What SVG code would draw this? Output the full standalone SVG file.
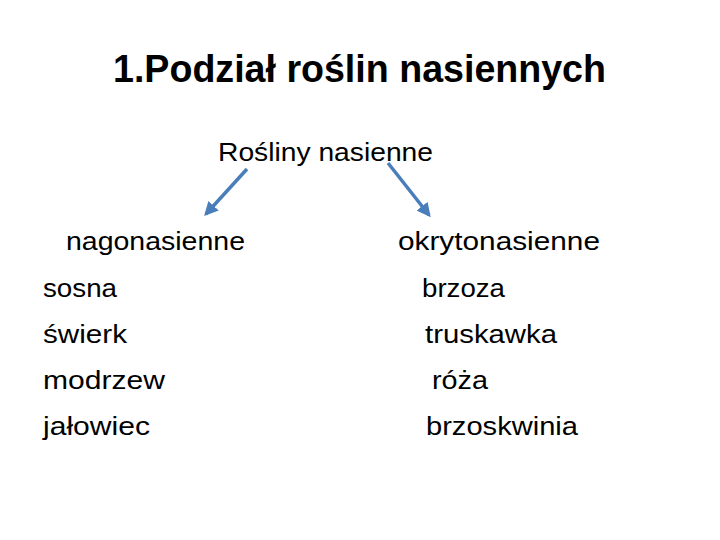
<svg xmlns="http://www.w3.org/2000/svg" width="720" height="540" viewBox="0 0 720 540">
<style>
.t{font-family:"Liberation Sans",Arial,sans-serif;font-size:26px;fill:#000}
.h{font-family:"Liberation Sans",Arial,sans-serif;font-size:38px;font-weight:bold;fill:#000}
.c{stroke:#4a7ebb;stroke-width:3.5;fill:none}
</style>
<defs>
<marker id="ah" viewBox="0 0 10 10" refX="8" refY="5" markerWidth="4" markerHeight="4" orient="auto" markerUnits="strokeWidth">
<path d="M0,0 L10,5 L0,10 z" fill="#4a7ebb"/>
</marker>
</defs>
<rect width="720" height="540" fill="#fff"/>
<g id="title"><text class="h" x="113" y="82" textLength="493" lengthAdjust="spacingAndGlyphs">1.Podział roślin nasiennych</text></g>
<g id="root"><text class="t" x="218" y="161" textLength="215" lengthAdjust="spacingAndGlyphs">Rośliny nasienne</text></g>
<g id="left">
<text class="t" x="66" y="250" textLength="179" lengthAdjust="spacingAndGlyphs">nagonasienne</text>
<text class="t" x="43" y="297" textLength="74" lengthAdjust="spacingAndGlyphs">sosna</text>
<text class="t" x="43" y="343" textLength="84" lengthAdjust="spacingAndGlyphs">świerk</text>
<text class="t" x="43" y="389" textLength="122" lengthAdjust="spacingAndGlyphs">modrzew</text>
<text class="t" x="43" y="435" textLength="107" lengthAdjust="spacingAndGlyphs">jałowiec</text>
</g>
<g id="right">
<text class="t" x="398" y="250" textLength="202" lengthAdjust="spacingAndGlyphs">okrytonasienne</text>
<text class="t" x="422" y="297" textLength="83" lengthAdjust="spacingAndGlyphs">brzoza</text>
<text class="t" x="425" y="343" textLength="132" lengthAdjust="spacingAndGlyphs">truskawka</text>
<text class="t" x="432" y="389" textLength="56" lengthAdjust="spacingAndGlyphs">róża</text>
<text class="t" x="426" y="435" textLength="152" lengthAdjust="spacingAndGlyphs">brzoskwinia</text>
</g>
<g id="connectors">
<line class="c" x1="247" y1="169" x2="206" y2="214" marker-end="url(#ah)"/>
<line class="c" x1="388" y1="163" x2="429" y2="215" marker-end="url(#ah)"/>
</g>
</svg>
